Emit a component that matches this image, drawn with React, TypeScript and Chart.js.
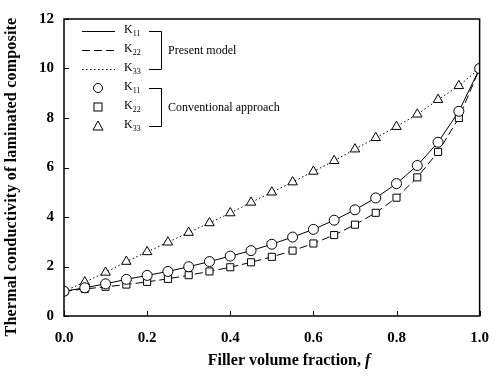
import React, { useEffect, useRef } from "react";
import { Chart, registerables } from "chart.js";

Chart.register(...registerables);

const fractions = [0, 0.05, 0.1, 0.15, 0.2, 0.25, 0.3, 0.35, 0.4, 0.45, 0.5, 0.55, 0.6, 0.65, 0.7, 0.75, 0.8, 0.85, 0.9, 0.95, 1.0];
const k11 = [1.0, 1.14, 1.3, 1.48, 1.64, 1.8, 1.99, 2.2, 2.42, 2.64, 2.9, 3.19, 3.5, 3.87, 4.29, 4.77, 5.35, 6.08, 7.02, 8.27, 10.0];
const k22 = [1.0, 1.09, 1.18, 1.27, 1.38, 1.5, 1.65, 1.8, 1.97, 2.17, 2.39, 2.64, 2.93, 3.27, 3.69, 4.17, 4.78, 5.6, 6.63, 8.0, 10.0];
const k33 = [1.0, 1.37, 1.76, 2.2, 2.59, 2.98, 3.37, 3.76, 4.16, 4.59, 5.0, 5.41, 5.84, 6.27, 6.74, 7.2, 7.65, 8.15, 8.74, 9.3, 10.0];
const xTicks = [0, 0.2, 0.4, 0.6, 0.8, 1.0];
const yTicks = [0, 2, 4, 6, 8, 10, 12];
const yTitle = "Thermal conductivity of laminated composite";
const xTitleMain = "Filler volume fraction, ";
const xTitleVar = "f";
const groupLabels = ["Present model", "Conventional approach"];
const seriesSubs = ["11", "22", "33"];

const SERIF = "'Liberation Serif', 'Times New Roman', serif";

const pts = (ys: number[]) => fractions.map((x, i) => ({ x, y: ys[i] }));

const framePlugin = {
  id: "frame",
  afterDraw(chart: any) {
    const { ctx, chartArea: a, scales } = chart;
    ctx.save();
    ctx.strokeStyle = "#000";
    ctx.lineWidth = 1.5;
    ctx.strokeRect(a.left, a.top, a.right - a.left, a.bottom - a.top);
    ctx.lineWidth = 1;
    ctx.beginPath();
    xTicks.forEach((v) => {
      const px = Math.round(scales.x.getPixelForValue(v)) + 0.5;
      ctx.moveTo(px, a.bottom);
      ctx.lineTo(px, a.bottom - 5);
    });
    yTicks.forEach((v) => {
      const py = Math.round(scales.y.getPixelForValue(v)) + 0.5;
      ctx.moveTo(a.left, py);
      ctx.lineTo(a.left + 5, py);
    });
    ctx.stroke();

    // legend
    const lx0 = 82, lx1 = 115, mx = 98, tx = 124;
    const rows = [31, 50, 69, 88, 107, 126];
    const dashes = [[], [8, 4], [1.5, 2.5]];
    ctx.lineWidth = 1;
    for (let i = 0; i < 3; i++) {
      ctx.setLineDash(dashes[i]);
      ctx.beginPath();
      ctx.moveTo(lx0, rows[i] + 0.5);
      ctx.lineTo(lx1, rows[i] + 0.5);
      ctx.stroke();
    }
    ctx.setLineDash([]);
    const r3 = rows[3], r4 = rows[4], r5 = rows[5];
    ctx.beginPath();
    ctx.arc(mx, r3, 4.5, 0, Math.PI * 2);
    ctx.stroke();
    ctx.strokeRect(mx - 4, r4 - 4, 8, 8);
    ctx.beginPath();
    ctx.moveTo(mx, r5 - 5);
    ctx.lineTo(mx + 5, r5 + 4);
    ctx.lineTo(mx - 5, r5 + 4);
    ctx.closePath();
    ctx.stroke();

    ctx.fillStyle = "#000";
    ctx.textBaseline = "middle";
    ctx.textAlign = "left";
    rows.forEach((ry, i) => {
      ctx.font = `12px ${SERIF}`;
      ctx.fillText("K", tx, ry - 1);
      const w = ctx.measureText("K").width;
      ctx.font = `8px ${SERIF}`;
      ctx.fillText(seriesSubs[i % 3], tx + w, ry + 3);
    });
    const bx0 = 149, bx1 = 161;
    [[rows[0], rows[2]], [rows[3], rows[5]]].forEach(([t, b], gi) => {
      ctx.beginPath();
      ctx.moveTo(bx0, t + 0.5);
      ctx.lineTo(bx1 + 0.5, t + 0.5);
      ctx.lineTo(bx1 + 0.5, b + 0.5);
      ctx.lineTo(bx0, b + 0.5);
      ctx.stroke();
      ctx.font = `12px ${SERIF}`;
      ctx.fillText(groupLabels[gi], 168, (t + b) / 2 + 1);
    });

    // x title with italic variable
    ctx.font = `bold 16px ${SERIF}`;
    const w1 = ctx.measureText(xTitleMain).width;
    ctx.font = `italic bold 16px ${SERIF}`;
    const w2 = ctx.measureText(xTitleVar).width;
    const sx = 289 - (w1 + w2) / 2;
    ctx.textAlign = "left";
    ctx.textBaseline = "middle";
    ctx.font = `bold 16px ${SERIF}`;
    ctx.fillText(xTitleMain, sx, 361);
    ctx.font = `italic bold 16px ${SERIF}`;
    ctx.fillText(xTitleVar, sx + w1, 361);

    // y title
    ctx.save();
    ctx.translate(12, 177);
    ctx.rotate(-Math.PI / 2);
    ctx.font = `bold 16px ${SERIF}`;
    try { (ctx as any).letterSpacing = "0.2px"; } catch (e) {}
    ctx.textAlign = "center";
    ctx.textBaseline = "middle";
    ctx.fillText(yTitle, 0, 0);
    ctx.restore();
    ctx.restore();
  },
};

export default function App() {
  const ref = useRef<HTMLCanvasElement | null>(null);
  useEffect(() => {
    document.body.style.margin = "0";
    const canvas = ref.current!;
    const markerCommon = {
      showLine: false,
      borderColor: "#000",
      backgroundColor: "#fff",
      pointBorderWidth: 1,
    };
    const lineCommon = {
      showLine: true,
      borderColor: "#000",
      borderWidth: 1,
      pointRadius: 0,
      tension: 0,
      fill: false,
    };
    const chart = new Chart(canvas, {
      type: "scatter",
      data: {
        datasets: [
          { ...markerCommon, label: "K11 conv", data: pts(k11), pointStyle: "circle", pointRadius: 5 },
          { ...markerCommon, label: "K22 conv", data: pts(k22), pointStyle: "rect", pointRadius: 5 },
          { ...markerCommon, label: "K33 conv", data: pts(k33), pointStyle: "triangle", pointRadius: 5.5 },
          { ...lineCommon, label: "K11", data: pts(k11) },
          { ...lineCommon, label: "K22", data: pts(k22), borderDash: [8, 4] },
          { ...lineCommon, label: "K33", data: pts(k33), borderDash: [1.5, 2.5] },
        ] as any,
      },
      options: {
        animation: false,
        responsive: false,
        devicePixelRatio: 1,
        layout: { padding: { top: 10, right: 0, left: 0, bottom: 0 } },
        plugins: { legend: { display: false }, tooltip: { enabled: false } },
        scales: {
          x: {
            type: "linear",
            min: 0,
            max: 1,
            afterBuildTicks: (s: any) => { s.ticks = xTicks.map((v) => ({ value: v })); },
            afterFit: (s: any) => { s.height = 60; },
            grid: { display: false, drawTicks: false },
            border: { display: false },
            ticks: {
              color: "#000",
              padding: 13,
              font: { family: SERIF, size: 15, weight: "bold" },
              callback: (v: any) => Number(v).toFixed(1),
            },
          },
          y: {
            type: "linear",
            min: 0,
            max: 12,
            afterBuildTicks: (s: any) => { s.ticks = yTicks.map((v) => ({ value: v })); },
            afterFit: (s: any) => { s.width = 64; },
            grid: { display: false, drawTicks: false },
            border: { display: false },
            ticks: {
              color: "#000",
              padding: 10,
              font: { family: SERIF, size: 15, weight: "bold" },
              callback: (v: any) => String(v),
            },
          },
        },
      } as any,
      plugins: [framePlugin],
    });
    return () => chart.destroy();
  }, []);
  return <canvas ref={ref} width={502} height={376} style={{ display: "block" }} />;
}
